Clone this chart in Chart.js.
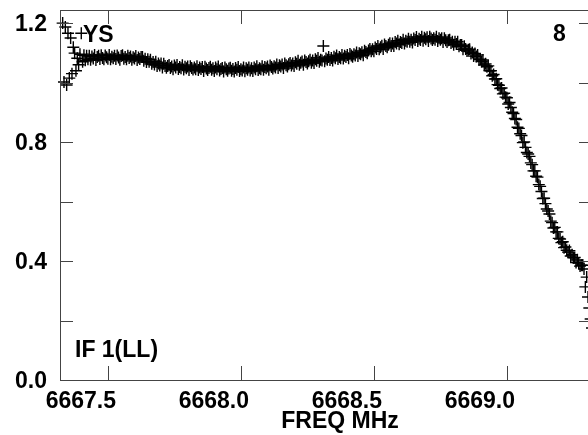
<!DOCTYPE html>
<html>
<head>
<meta charset="utf-8">
<script src="https://cdn.jsdelivr.net/npm/chart.js@4/dist/chart.umd.min.js"></script>
<style>
  html, body { margin: 0; padding: 0; background: #fff; overflow: hidden; }
  #wrap { width: 600px; height: 435px; }
</style>
</head>
<body>
<div id="wrap"><canvas id="spec" width="600" height="435"></canvas></div>
<script>
// channel axis: first channel frequency and channel width (MHz)
var startFreq = 6667.33;
var chanWidth = 0.005;

// LL amplitude per channel (20 channels = 0.1 MHz per row)
var flux = [
  1.200, 1.002, 1.187, 0.992, 1.166, 1.015, 1.150, 1.030, 1.119, 1.099, 1.040, 1.082, 1.060, 1.095, 1.166, 1.070, 1.092, 1.075, 1.090, 1.078,
  1.090, 1.077, 1.088, 1.081, 1.093, 1.076, 1.086, 1.090, 1.079, 1.092, 1.083, 1.078, 1.091, 1.085, 1.080, 1.093, 1.078, 1.087, 1.082, 1.090,
  1.079, 1.091, 1.084, 1.077, 1.089, 1.092, 1.080, 1.086, 1.078, 1.090, 1.083, 1.088, 1.077, 1.085, 1.081, 1.089, 1.076, 1.084, 1.079, 1.086,
  1.086, 1.073, 1.080, 1.069, 1.078, 1.070, 1.077, 1.063, 1.069, 1.061, 1.070, 1.056, 1.064, 1.057, 1.064, 1.051, 1.063, 1.056, 1.050, 1.056,
  1.059, 1.049, 1.054, 1.045, 1.057, 1.051, 1.059, 1.046, 1.052, 1.048, 1.058, 1.044, 1.053, 1.048, 1.054, 1.042, 1.055, 1.049, 1.044, 1.051,
  1.045, 1.055, 1.042, 1.051, 1.046, 1.052, 1.039, 1.053, 1.047, 1.042, 1.049, 1.053, 1.043, 1.048, 1.039, 1.051, 1.045, 1.054, 1.041, 1.046,
  1.049, 1.037, 1.051, 1.045, 1.040, 1.047, 1.050, 1.040, 1.046, 1.037, 1.049, 1.043, 1.052, 1.039, 1.045, 1.041, 1.051, 1.038, 1.048, 1.043,
  1.051, 1.041, 1.048, 1.039, 1.051, 1.045, 1.055, 1.042, 1.048, 1.045, 1.055, 1.043, 1.052, 1.048, 1.054, 1.043, 1.057, 1.052, 1.047, 1.055,
  1.051, 1.061, 1.049, 1.058, 1.054, 1.061, 1.049, 1.064, 1.058, 1.054, 1.062, 1.066, 1.057, 1.064, 1.056, 1.068, 1.063, 1.073, 1.060, 1.067,
  1.071, 1.060, 1.074, 1.069, 1.064, 1.072, 1.077, 1.067, 1.074, 1.066, 1.078, 1.073, 1.083, 1.070, 1.077, 1.074, 1.123, 1.072, 1.081, 1.077,
  1.086, 1.076, 1.083, 1.074, 1.087, 1.082, 1.091, 1.079, 1.086, 1.082, 1.093, 1.081, 1.090, 1.086, 1.093, 1.082, 1.096, 1.091, 1.087, 1.095,
  1.091, 1.101, 1.089, 1.099, 1.095, 1.102, 1.092, 1.107, 1.103, 1.099, 1.108, 1.113, 1.105, 1.112, 1.105, 1.118, 1.113, 1.123, 1.112, 1.119,
  1.124, 1.113, 1.128, 1.123, 1.119, 1.127, 1.132, 1.123, 1.131, 1.123, 1.136, 1.131, 1.141, 1.129, 1.136, 1.133, 1.144, 1.131, 1.141, 1.137,
  1.147, 1.137, 1.144, 1.135, 1.148, 1.143, 1.153, 1.140, 1.147, 1.143, 1.154, 1.141, 1.151, 1.146, 1.152, 1.140, 1.154, 1.148, 1.143, 1.149,
  1.144, 1.154, 1.140, 1.149, 1.144, 1.149, 1.136, 1.149, 1.142, 1.136, 1.142, 1.144, 1.133, 1.137, 1.127, 1.137, 1.130, 1.137, 1.122, 1.126,
  1.126, 1.112, 1.122, 1.113, 1.106, 1.110, 1.112, 1.098, 1.101, 1.089, 1.098, 1.088, 1.093, 1.077, 1.079, 1.071, 1.076, 1.059, 1.063, 1.053,
  1.056, 1.040, 1.040, 1.023, 1.027, 1.012, 1.013, 0.993, 0.991, 0.980, 0.982, 0.962, 0.964, 0.951, 0.949, 0.928, 0.933, 0.916, 0.900, 0.896,
  0.879, 0.876, 0.850, 0.846, 0.828, 0.822, 0.798, 0.800, 0.782, 0.765, 0.760, 0.752, 0.730, 0.724, 0.703, 0.703, 0.685, 0.682, 0.657, 0.651,
  0.634, 0.610, 0.611, 0.593, 0.575, 0.568, 0.558, 0.534, 0.529, 0.511, 0.513, 0.498, 0.498, 0.476, 0.474, 0.462, 0.465, 0.445, 0.447, 0.436,
  0.430, 0.435, 0.417, 0.421, 0.411, 0.412, 0.395, 0.404, 0.393, 0.383, 0.386, 0.386, 0.373, 0.313, 0.346, 0.279, 0.242, 0.205, 0.175, 0.145
];

var xRange = [6667.32, 6669.32];
var yRange = [0, 1.244];
var xTickVals = [6667.5, 6668.0, 6668.5, 6669.0];
var yTickVals = [0.0, 0.2, 0.4, 0.6, 0.8, 1.0, 1.2];
var yLabelVals = [0.0, 0.4, 0.8, 1.2];

var cornerText = { source: "YS", plotNo: "8", ifLabel: "IF 1(LL)", xTitle: "FREQ MHz" };

var points = flux.map(function (v, i) {
  return { x: startFreq + i * chanWidth, y: v };
});

var labelFont = { family: "'Liberation Sans', Arial, sans-serif", size: 23, weight: "bold" };
var fontStr = "bold 23px 'Liberation Sans', Arial, sans-serif";

// AIPS style box with inward ticks plus the plot annotations
var frame = {
  id: "frame",
  afterDraw: function (chart) {
    var ctx = chart.ctx, a = chart.chartArea;
    var xs = chart.scales.x, ys = chart.scales.y;
    ctx.save();
    ctx.strokeStyle = "#444";
    ctx.lineWidth = 1;
    ctx.strokeRect(Math.round(a.left) + 0.5, Math.round(a.top) + 0.5,
      Math.round(a.right - a.left), Math.round(a.bottom - a.top));
    ctx.beginPath();
    xs.ticks.forEach(function (t) {
      var px = Math.round(xs.getPixelForValue(t.value)) + 0.5;
      ctx.moveTo(px, a.bottom); ctx.lineTo(px, a.bottom - 14);
      ctx.moveTo(px, a.top); ctx.lineTo(px, a.top + 14);
    });
    ys.ticks.forEach(function (t) {
      var py = Math.round(ys.getPixelForValue(t.value)) + 0.5;
      ctx.moveTo(a.left, py); ctx.lineTo(a.left + 13, py);
      ctx.moveTo(a.right, py); ctx.lineTo(a.right - 13, py);
    });
    ctx.stroke();

    ctx.fillStyle = "#000";
    ctx.font = fontStr;
    ctx.textBaseline = "middle";
    ctx.textAlign = "left";
    ctx.fillText(cornerText.source, 83, 36);
    ctx.fillText(cornerText.plotNo, 553, 35);
    ctx.fillText(cornerText.ifLabel, 75, 351);
    ctx.textAlign = "center";
    ctx.fillText(cornerText.xTitle, 340, 422);
    ctx.restore();
  }
};

new Chart("spec", {
  type: "scatter",
  data: {
    datasets: [{
      data: points,
      showLine: false,
      pointStyle: "cross",
      pointRadius: 6,
      pointHoverRadius: 6,
      pointBorderWidth: 1.4,
      borderColor: "#000",
      backgroundColor: "#000",
      clip: false
    }]
  },
  options: {
    responsive: false,
    animation: false,
    events: [],
    layout: { padding: { left: 0, right: 8, top: 10, bottom: 0 } },
    plugins: { legend: { display: false }, tooltip: { enabled: false } },
    scales: {
      x: {
        type: "linear",
        min: xRange[0],
        max: xRange[1],
        grid: { display: false, drawTicks: false },
        border: { display: false },
        afterBuildTicks: function (s) {
          s.ticks = xTickVals.map(function (v) { return { value: v }; });
        },
        ticks: {
          color: "#000",
          font: labelFont,
          padding: 8,
          labelOffset: -27,
          maxRotation: 0,
          autoSkip: false,
          callback: function (v) { return v.toFixed(1); }
        },
        afterFit: function (s) { s.height = 55; s.paddingLeft = 0; s.paddingRight = 0; }
      },
      y: {
        type: "linear",
        min: yRange[0],
        max: yRange[1],
        grid: { display: false, drawTicks: false },
        border: { display: false },
        afterBuildTicks: function (s) {
          s.ticks = yTickVals.map(function (v) { return { value: v }; });
        },
        ticks: {
          color: "#000",
          font: labelFont,
          padding: 13,
          labelOffset: 2,
          autoSkip: false,
          callback: function (v) {
            return yLabelVals.some(function (l) { return Math.abs(l - v) < 1e-6; }) ? v.toFixed(1) : "";
          }
        },
        afterFit: function (s) { s.width = 60; s.paddingTop = 0; s.paddingBottom = 0; }
      }
    }
  },
  plugins: [frame]
});
</script>
</body>
</html>
